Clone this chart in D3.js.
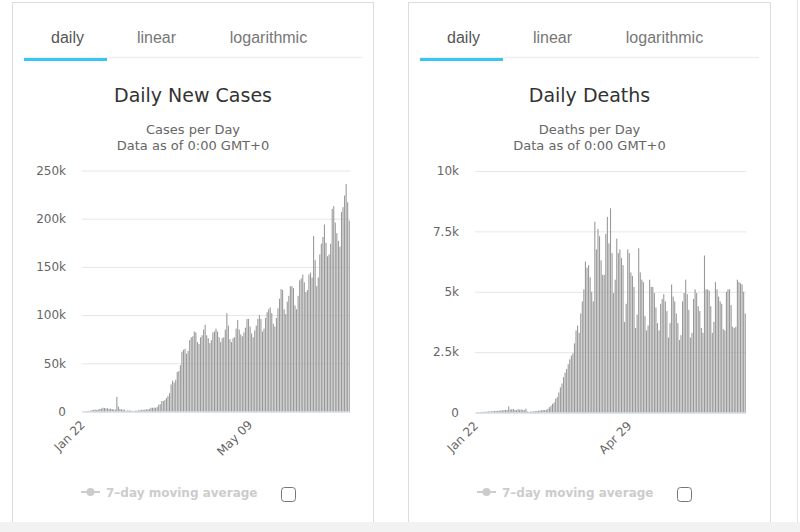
<!DOCTYPE html>
<html>
<head>
<meta charset="utf-8">
<script src="https://cdn.jsdelivr.net/npm/d3@7"></script>
<style>
  body { margin: 0; background: #fff; }
  svg { display: block; }
</style>
</head>
<body>
<div id="chart"></div>
<script>
// daily values, one per day starting Jan 22
const startDate = new Date(2020, 0, 22);

const casesValues = [
  // Jan 22-31
  0, 100, 290, 490, 680, 810, 1500, 1750, 2070, 1700,
  // Feb
  2100, 2600, 3000, 3900, 3700, 3200, 3400, 2700, 3000, 2600,
  2050, 2050, 15150, 5100, 2650, 2100, 2050, 1900, 550, 1150,
  1000, 950, 650, 500, 850, 950, 1100, 1350, 1800,
  // Mar
  1800, 1900, 2400, 2200, 2700, 3900, 3900, 4000, 3900, 4600,
  7000, 7500, 10800, 10800, 12000, 14000, 16000, 19000, 28000, 32000,
  30000, 33000, 41000, 42000, 48000, 62000, 64000, 65000, 60000, 63000, 74000,
  // Apr
  77000, 78000, 83000, 82000, 72000, 70000, 77000, 79000, 85000, 90000,
  79000, 76000, 71000, 74000, 82000, 83000, 86000, 83000, 77000, 72000,
  76000, 77000, 85000, 102000, 89000, 75000, 72000, 76000, 77000, 86000,
  // May
  95000, 85000, 80000, 78000, 82000, 87000, 96000, 96000, 88000, 81000,
  77000, 84000, 89000, 96000, 100000, 96000, 83000, 86000, 97000, 103000,
  106000, 108000, 102000, 91000, 88000, 97000, 107000, 117000, 127000, 126000, 106000,
  // Jun
  101000, 114000, 120000, 130000, 130000, 128000, 110000, 106000, 120000, 136000,
  138000, 142000, 134000, 124000, 126000, 142000, 144000, 139000, 182000, 157000,
  130000, 139000, 163000, 174000, 181000, 194000, 175000, 161000, 163000, 174000,
  // Jul 1-12
  210000, 213000, 196000, 185000, 177000, 171000, 207000, 212000, 224000, 236000, 217000, 198000
];

const deathsValues = [
  // Jan 22-31
  0, 8, 16, 15, 24, 26, 26, 38, 43, 46,
  // Feb
  45, 57, 64, 66, 73, 73, 86, 89, 97, 108,
  97, 254, 121, 143, 142, 106, 98, 139, 115, 125,
  111, 100, 160, 40, 30, 35, 40, 50, 55,
  // Mar
  60, 70, 80, 95, 100, 105, 110, 150, 220, 280,
  360, 420, 570, 640, 830, 1040, 1200, 1460, 1650, 1800,
  2000, 2200, 2350, 2450, 2860, 3400, 3600, 3300, 4100, 4600, 5100,
  // Apr
  6250, 6000, 6100, 5600, 5000, 4600, 7900, 6750, 7600, 7300,
  6300, 5700, 5700, 7400, 8100, 7000, 8460, 6600, 4950, 5500,
  7200, 6600, 6750, 6400, 6100, 3750, 4500, 6750, 6600, 5800,
  // May
  5650, 5200, 3500, 4050, 6800, 5800, 5500, 5400, 4000, 3400,
  3600, 5500, 5200, 5200, 4950, 4350, 3700, 3400, 4500, 4700,
  4900, 4600, 4200, 3100, 3700, 5300, 4800, 4600, 4100, 3700, 3000,
  // Jun
  3200, 4600, 4950, 5500, 4900, 4250, 3100, 3300, 4700, 5100,
  4950, 4400, 4200, 3500, 3300, 6500, 5100, 5100, 5050, 4400,
  3300, 3750, 5400, 5100, 4800, 4600, 4500, 3450, 3400, 5000,
  // Jul 1-12
  5100, 5100, 4450, 3550, 3500, 3550, 5500, 5400, 5350, 5300, 5000, 4100
];

const casesYTicks = [0, 50000, 100000, 150000, 200000, 250000];
const deathsYTicks = [0, 2500, 5000, 7500, 10000];
const casesXLabels = ["Jan 22", "May 09"];
const deathsXLabels = ["Jan 22", "Apr 29"];
const tabNames = ["daily", "linear", "logarithmic"];

const W = 800, H = 532;
const fmtDay = d3.timeFormat("%b %d");
const fmtK = v => v === 0 ? "0" : (v / 1000) + "k";
const hcFont = "'DejaVu Sans', sans-serif";
const navFont = "'Liberation Sans', Arial, sans-serif";

const svg = d3.select("#chart").append("svg")
  .attr("width", W)
  .attr("height", H);

// right edge line of the page
svg.append("line")
  .attr("x1", 797.5).attr("x2", 797.5)
  .attr("y1", 0).attr("y2", H)
  .attr("stroke", "#e2e2e2");

function drawPanel(opt) {
  const g = svg.append("g").attr("transform", `translate(${opt.left},0)`);
  const cw = opt.width;

  // card
  g.append("rect")
    .attr("x", 0.5).attr("y", 2.5)
    .attr("width", cw).attr("height", 560)
    .attr("fill", "#fff")
    .attr("stroke", "#dcdcdc");

  // tabs
  const tabX = [55.5, 144.5, 256.5];
  g.append("line")
    .attr("x1", 12).attr("x2", cw - 11)
    .attr("y1", 57.5).attr("y2", 57.5)
    .attr("stroke", "#efefef").attr("stroke-width", 1.5);
  g.append("rect")
    .attr("x", 12).attr("y", 58)
    .attr("width", 83).attr("height", 3)
    .attr("fill", "#33c7f2");
  g.selectAll(".tab")
    .data(tabNames)
    .enter().append("text")
    .attr("class", "tab")
    .attr("x", (d, i) => tabX[i])
    .attr("y", 43)
    .attr("text-anchor", "middle")
    .style("font-family", navFont)
    .style("font-size", "16px")
    .style("fill", (d, i) => i === 0 ? "#555" : "#777")
    .text(d => d);

  // titles
  const cx = cw / 2 + 0.5;
  g.append("text")
    .attr("x", cx).attr("y", 102)
    .attr("text-anchor", "middle")
    .style("font-family", hcFont)
    .style("font-size", "19px")
    .style("fill", "#333")
    .text(opt.title);
  [opt.subtitle, "Data as of 0:00 GMT+0"].forEach((s, i) => {
    g.append("text")
      .attr("x", cx).attr("y", 133.5 + i * 16.5)
      .attr("text-anchor", "middle")
      .style("font-family", hcFont)
      .style("font-size", "13px")
      .style("fill", "#666")
      .text(s);
  });

  // scales
  const days = d3.timeDay.range(startDate, d3.timeDay.offset(startDate, opt.values.length));
  const cats = days.map(fmtDay);
  const x = d3.scaleBand()
    .domain(cats)
    .range([opt.plotX0 - opt.left, opt.plotX1 - opt.left])
    .paddingInner(0.3)
    .paddingOuter(0.15);
  const y = d3.scaleLinear()
    .domain([0, d3.max(opt.yTicks)])
    .range([opt.plotY0, opt.plotY1]);

  const plotW = x.range()[1] - x.range()[0];

  // y axis with grid
  const yAxis = g.append("g")
    .attr("transform", `translate(${x.range()[0]},0)`)
    .call(d3.axisLeft(y).tickValues(opt.yTicks).tickFormat(fmtK)
      .tickSizeInner(-plotW).tickSizeOuter(0).tickPadding(16));
  yAxis.select(".domain").remove();
  yAxis.selectAll("line").attr("stroke", "#e6e6e6");
  yAxis.selectAll("text")
    .style("font-family", hcFont)
    .style("font-size", "12px")
    .style("fill", "#666");

  // bars
  g.append("g").selectAll("rect")
    .data(opt.values)
    .enter().append("rect")
    .attr("x", (d, i) => x(cats[i]))
    .attr("width", x.bandwidth())
    .attr("y", d => y(d))
    .attr("height", d => y(0) - y(d))
    .attr("fill", "#999");

  // x axis
  const xAxis = g.append("g")
    .attr("transform", `translate(0,${opt.plotY0})`)
    .call(d3.axisBottom(x).tickValues(opt.xLabels).tickSize(0));
  xAxis.select(".domain").attr("stroke", "#ccd6eb");
  xAxis.selectAll("text")
    .attr("x", 0).attr("y", 0).attr("dy", 0)
    .attr("transform", "translate(3,14) rotate(-45)")
    .style("text-anchor", "end")
    .style("font-family", hcFont)
    .style("font-size", "12px")
    .style("fill", "#666");

  // legend (hidden series) and checkbox
  const lg = g.append("g").attr("transform", "translate(0,492)");
  lg.append("line")
    .attr("x1", 69).attr("x2", 88)
    .attr("y1", 0).attr("y2", 0)
    .attr("stroke", "#ccc").attr("stroke-width", 2);
  lg.append("circle")
    .attr("cx", 78.5).attr("cy", 0).attr("r", 4)
    .attr("fill", "#ccc");
  lg.append("text")
    .attr("x", 94).attr("y", 4.5)
    .style("font-family", hcFont)
    .style("font-size", "12px")
    .style("font-weight", "bold")
    .style("fill", "#ccc")
    .text("7\u2013day moving average");
  g.append("rect")
    .attr("x", 269.5).attr("y", 487.5)
    .attr("width", 14).attr("height", 14)
    .attr("rx", 3)
    .attr("fill", "#fff")
    .attr("stroke", "#767676");
}

drawPanel({
  left: 12, width: 361,
  title: "Daily New Cases", subtitle: "Cases per Day",
  values: casesValues, yTicks: casesYTicks, xLabels: casesXLabels,
  plotX0: 82, plotX1: 350, plotY0: 411.5, plotY1: 170.5
});

drawPanel({
  left: 408, width: 362,
  title: "Daily Deaths", subtitle: "Deaths per Day",
  values: deathsValues, yTicks: deathsYTicks, xLabels: deathsXLabels,
  plotX0: 475, plotX1: 746, plotY0: 412.5, plotY1: 171
});

// light strip along the bottom of the page
svg.append("rect")
  .attr("x", 0).attr("y", 522)
  .attr("width", W).attr("height", H - 522)
  .attr("fill", "#f2f2f2");
</script>
</body>
</html>
